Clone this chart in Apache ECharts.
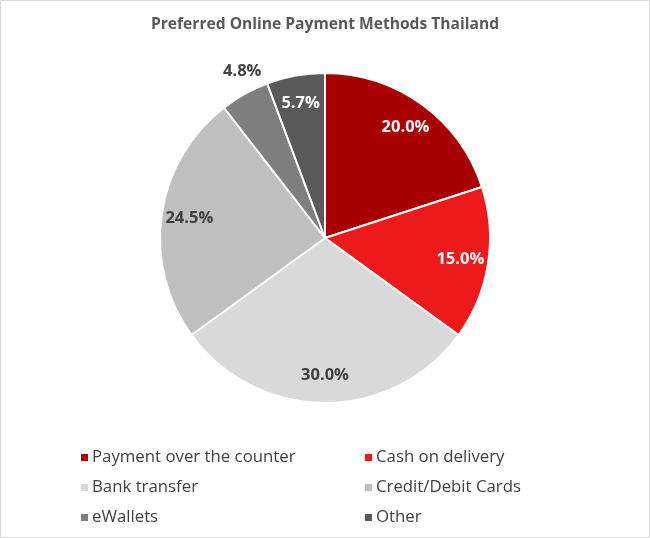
<!DOCTYPE html>
<html>
<head>
<meta charset="utf-8">
<script src="https://cdn.jsdelivr.net/npm/echarts@6/dist/echarts.min.js"></script>
<style>
html, body { margin: 0; padding: 0; background: #fff; }
#main { width: 650px; height: 538px; }
</style>
</head>
<body>
<div id="main"></div>
<script>
var methods = ['Payment over the counter', 'Cash on delivery', 'Bank transfer', 'Credit/Debit Cards', 'eWallets', 'Other'];
var shares = [20.0, 15.0, 30.0, 24.5, 4.8, 5.7];
var colors = ['#A80000', '#EC1A1A', '#D9D9D9', '#BFBFBF', '#7F7F7F', '#595959'];
var labelColors = ['#fff', '#fff', '#404040', '#404040', '#404040', '#fff'];
var leftLegend = ['Payment over the counter', 'Bank transfer', 'eWallets'];
var rightLegend = ['Cash on delivery', 'Credit/Debit Cards', 'Other'];

var font = '"Open Sans", "Noto Sans", sans-serif';

function legendItems(names) {
	return names.map(function (n) {
		return { name: n, itemStyle: { color: colors[methods.indexOf(n)] } };
	});
}

var pieData = methods.map(function (m, i) {
	return { name: m, value: shares[i], itemStyle: { color: colors[i] } };
});

// transparent ring on top, only to put the labels further out than the default
var labelData = methods.map(function (m, i) {
	var item = {
		name: m,
		value: shares[i],
		label: { color: labelColors[i] }
	};
	if (m === 'eWallets') {
		item.label.offset = [-16, -47];
	}
	return item;
});

var legendBase = {
	orient: 'vertical',
	top: 444,
	itemWidth: 9,
	itemHeight: 9,
	itemGap: 13,
	icon: 'rect',
	textStyle: { fontFamily: font, fontSize: 16.8, color: '#404040', padding: [0, 0, 0, -2] }
};

var myChart = echarts.init(document.getElementById('main'));

var option = {
	backgroundColor: '#fff',
	animation: false,
	title: {
		text: 'Preferred Online Payment Methods Thailand',
		left: 'center',
		top: 12,
		textStyle: { fontFamily: font, fontSize: 15.6, fontWeight: 'bold', color: '#595959' }
	},
	legend: [
		Object.assign({}, legendBase, { left: 74, data: legendItems(leftLegend) }),
		Object.assign({}, legendBase, { left: 358, data: legendItems(rightLegend) })
	],
	graphic: [{
		type: 'rect',
		shape: { x: 0.5, y: 0.5, width: 649, height: 537 },
		style: { fill: 'none', stroke: '#D9D9D9', lineWidth: 1 },
		silent: true
	}],
	series: [{
		type: 'pie',
		center: [325, 238],
		radius: [0, 165],
		startAngle: 90,
		clockwise: true,
		data: pieData,
		itemStyle: { borderColor: '#fff', borderWidth: 2 },
		label: { show: false },
		labelLine: { show: false },
		emphasis: { disabled: true }
	}, {
		type: 'pie',
		center: [325, 238],
		radius: [102, 166],
		startAngle: 90,
		clockwise: true,
		silent: true,
		data: labelData,
		itemStyle: { color: 'rgba(0,0,0,0)', borderWidth: 0 },
		label: {
			show: true,
			position: 'inside',
			fontFamily: font,
			fontSize: 16.5,
			fontWeight: 'bold',
			formatter: function (p) { return p.value.toFixed(1) + '%'; }
		},
		labelLine: { show: false },
		emphasis: { disabled: true }
	}]
};

myChart.setOption(option);
</script>
</body>
</html>
